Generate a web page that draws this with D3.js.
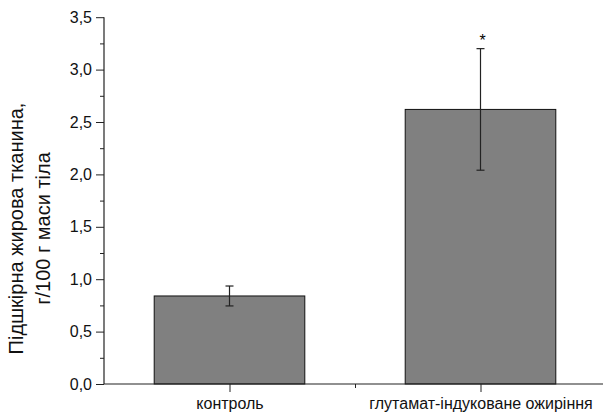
<!DOCTYPE html>
<html>
<head>
<meta charset="utf-8">
<script src="https://cdn.jsdelivr.net/npm/d3@7"></script>
<style>
  body { margin: 0; background: #fff; }
  svg { display: block; font-family: "Liberation Sans", Arial, sans-serif; }
</style>
</head>
<body>
<svg id="chart" width="603" height="417"></svg>
<script>
// дані
const categories = ['контроль', 'глутамат-індуковане ожиріння'];
const means = [0.84, 2.62];
const errors = [0.095, 0.58];
const marks = ['', '*'];
const yTicks = [0, 0.5, 1, 1.5, 2, 2.5, 3, 3.5];
const yMinorTicks = [0.25, 0.75, 1.25, 1.75, 2.25, 2.75, 3.25];
const xMinorTicks = [1.5];
const yLabelLines = ['Підшкірна жирова тканина,', 'г/100 г маси тіла'];

const svg = d3.select('#chart');
const mLeft = 104, mTop = 17.2, mBottom = 384, mRight = 606;
const font = '"Liberation Sans", Arial, sans-serif';

const x = d3.scaleLinear().domain([0.5, 2.5]).range([mLeft, mRight]);
const y = d3.scaleLinear().domain([0, 3.5]).range([mBottom, mTop]);
const barW = (x(1) - x(0)) * 0.6;
const fmt = d => d3.format('.1f')(d).replace('.', ',');

// стовпці
svg.selectAll('rect.bar')
  .data(means)
  .enter()
  .append('rect')
  .attr('class', 'bar')
  .attr('x', (d, i) => x(i + 1) - barW / 2)
  .attr('y', d => y(d))
  .attr('width', barW)
  .attr('height', d => y(0) - y(d))
  .attr('fill', '#808080')
  .attr('stroke', '#111')
  .attr('stroke-width', 1);

// похибки
const eb = svg.selectAll('g.err')
  .data(means)
  .enter()
  .append('g')
  .attr('class', 'err')
  .attr('stroke', '#222')
  .attr('stroke-width', 1.2);
eb.append('line')
  .attr('x1', (d, i) => x(i + 1)).attr('x2', (d, i) => x(i + 1))
  .attr('y1', (d, i) => y(d + errors[i])).attr('y2', (d, i) => y(d - errors[i]));
eb.append('line')
  .attr('x1', (d, i) => x(i + 1) - 4).attr('x2', (d, i) => x(i + 1) + 4)
  .attr('y1', (d, i) => y(d + errors[i])).attr('y2', (d, i) => y(d + errors[i]));
eb.append('line')
  .attr('x1', (d, i) => x(i + 1) - 4).attr('x2', (d, i) => x(i + 1) + 4)
  .attr('y1', (d, i) => y(d - errors[i])).attr('y2', (d, i) => y(d - errors[i]));

svg.selectAll('text.mark')
  .data(marks)
  .enter()
  .append('text')
  .attr('class', 'mark')
  .attr('x', (d, i) => x(i + 1) + 2)
  .attr('y', (d, i) => y(means[i] + errors[i]) - 3)
  .attr('text-anchor', 'middle')
  .attr('font-size', 16)
  .text(d => d);

// осі
const yAxis = d3.axisLeft(y).tickValues(yTicks).tickSize(8).tickPadding(4).tickFormat(fmt);
const gy = svg.append('g').attr('transform', `translate(${mLeft},0)`).call(yAxis);
gy.select('.domain').remove();
gy.selectAll('text').attr('font-size', 16).attr('fill', '#111').attr('font-family', font);
gy.selectAll('line').attr('stroke', '#222');

const yMinor = d3.axisLeft(y).tickValues(yMinorTicks).tickSize(4).tickFormat('');
const gym = svg.append('g').attr('transform', `translate(${mLeft},0)`).call(yMinor);
gym.select('.domain').remove();
gym.selectAll('line').attr('stroke', '#222');

const xAxis = d3.axisBottom(x).tickValues([1, 2]).tickSize(8).tickPadding(6)
  .tickFormat(d => categories[d - 1]);
const gx = svg.append('g').attr('transform', `translate(0,${mBottom})`).call(xAxis);
gx.select('.domain').remove();
gx.selectAll('text').attr('font-size', 16).attr('fill', '#111').attr('font-family', font);
gx.selectAll('line').attr('stroke', '#222');

const xMinor = d3.axisBottom(x).tickValues(xMinorTicks).tickSize(4).tickFormat('');
const gxm = svg.append('g').attr('transform', `translate(0,${mBottom})`).call(xMinor);
gxm.select('.domain').remove();
gxm.selectAll('line').attr('stroke', '#222');

svg.append('line')
  .attr('x1', mLeft).attr('x2', mLeft).attr('y1', mTop).attr('y2', mBottom)
  .attr('stroke', '#222').attr('stroke-width', 1.2);
svg.append('line')
  .attr('x1', mLeft).attr('x2', 603).attr('y1', mBottom).attr('y2', mBottom)
  .attr('stroke', '#222').attr('stroke-width', 1.2);

// підпис осі Y
const yl = svg.append('text')
  .attr('transform', 'translate(0,228.5) rotate(-90)')
  .attr('text-anchor', 'middle')
  .attr('font-size', 20)
  .attr('fill', '#111');
yl.selectAll('tspan')
  .data(yLabelLines)
  .enter()
  .append('tspan')
  .attr('x', 0)
  .attr('y', (d, i) => 23 + i * 27)
  .text(d => d);
</script>
</body>
</html>
